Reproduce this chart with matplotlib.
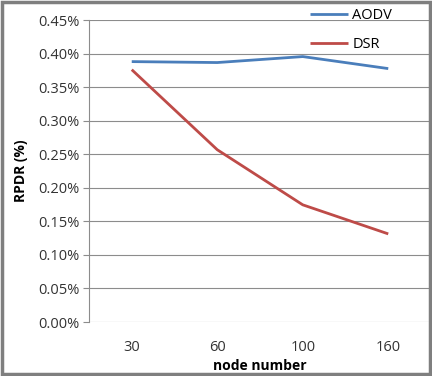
import matplotlib
matplotlib.use("Agg")
import matplotlib.pyplot as plt
from matplotlib.ticker import FuncFormatter, MultipleLocator
from matplotlib.patches import Rectangle

categories = ["30", "60", "100", "160"]
aodv = [0.388, 0.3866, 0.3955, 0.3776]
dsr = [0.376, 0.2567, 0.1746, 0.1313]

fig = plt.figure(figsize=(4.32, 3.76), dpi=100)
fig.patch.set_facecolor("white")
ax = fig.add_axes([89/432, 1 - 322/376, (431-89)/432, (322-20)/376])

x = list(range(len(categories)))
la, = ax.plot(x, aodv, color="#4A7EBB", lw=2.0, solid_capstyle="butt")
ld, = ax.plot(x, dsr, color="#BE4B48", lw=2.0, solid_capstyle="butt")

ax.set_xlim(-0.5, len(categories) - 0.5)
ax.set_ylim(0, 0.45)
ax.yaxis.set_major_locator(MultipleLocator(0.05))
ax.yaxis.set_major_formatter(FuncFormatter(lambda v, p: f"{v:.2f}%"))
ax.set_xticks(x)
ax.set_xticklabels(categories)
ax.grid(axis="y", color="#8c8c8c", lw=0.8)
ax.set_axisbelow(True)
for s in ["top", "right", "bottom"]:
    ax.spines[s].set_visible(False)
ax.spines["left"].set_color("#8c8c8c")
ax.tick_params(axis="y", length=4, color="#8c8c8c", labelsize=10.5, labelcolor="#333333", pad=3)
ax.tick_params(axis="x", length=0, labelsize=10.5, labelcolor="#333333", pad=13)
for lab in ax.get_xticklabels() + ax.get_yticklabels():
    lab.set_fontfamily("Open Sans")

ax.set_ylabel("RPDR (%)", fontsize=10, fontweight="bold", fontfamily="Open Sans", labelpad=7)
ax.set_xlabel("node number", fontsize=10, fontweight="bold", fontfamily="Open Sans", labelpad=3)

leg = fig.legend([la, ld], ["AODV", "DSR"], loc="upper left",
                 bbox_to_anchor=(307/432, 1 - 5/376), frameon=False,
                 borderpad=0.1, borderaxespad=0.1,
                 handlelength=2.6, handletextpad=0.3, labelspacing=0.95,
                 prop={"family": "Open Sans", "size": 10.5})

fig.patches.append(Rectangle((0.004, 0.004), 0.992, 0.992, transform=fig.transFigure,
                             fill=False, edgecolor="#7f7f7f", lw=2.5))
fig.savefig("out.png", dpi=100)
